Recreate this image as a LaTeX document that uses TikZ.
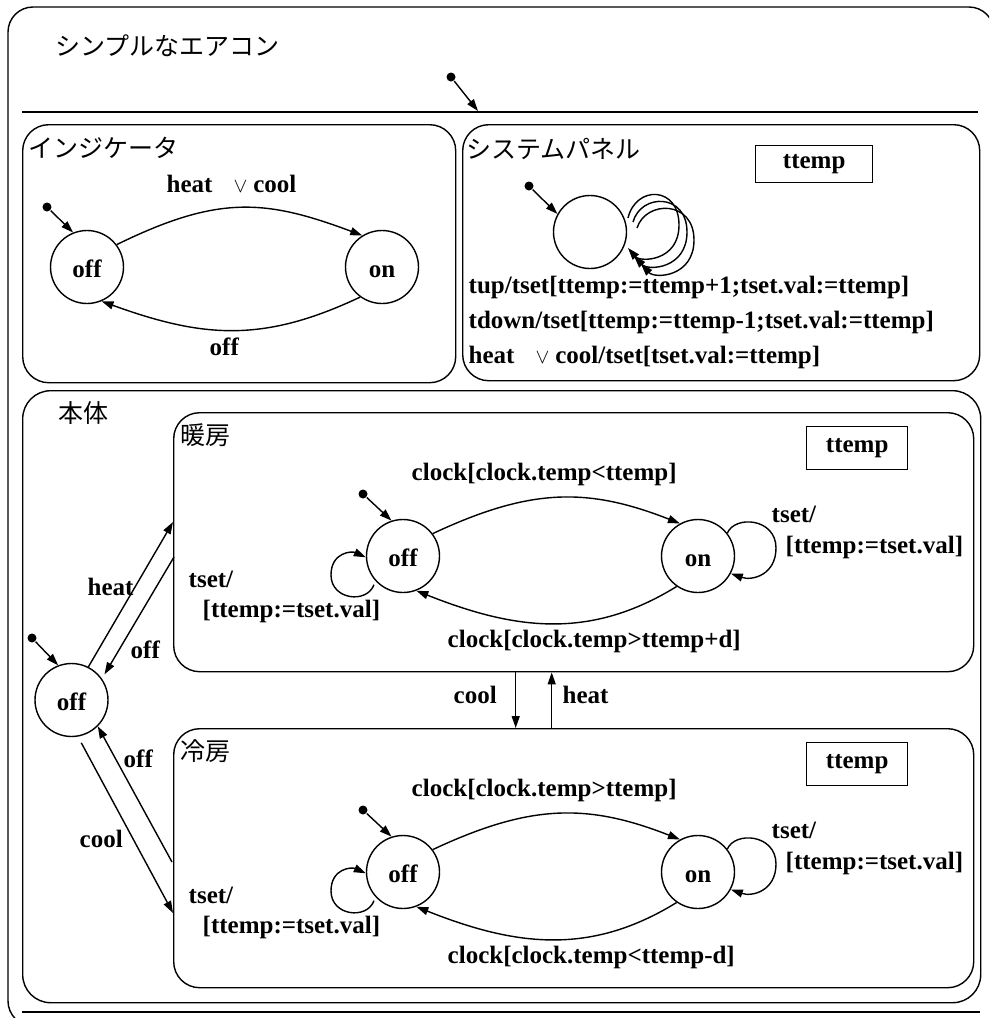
\documentclass[tikz,border=0pt]{standalone}
\usepackage{fontspec}
\setmainfont{Liberation Serif}
\newfontfamily\jpfont{Noto Sans CJK JP}
\usetikzlibrary{arrows.meta,calc}
\newcommand\orvee{{\fontsize{21}{21}\selectfont$\vee$}}
\newcommand\modeblock[5]{%
\begin{scope}[shift={(0,#5)}]
 \node[region, minimum width=800pt, minimum height=259pt] (#1box) at (173,412) {};
 \node[jp] (#1title) at (180,435) {#2};
 \node[varbox, minimum width=101pt, minimum height=43pt] (#1var) at (806,426) {ttemp};
 \node[state] (#1off) at (403,556) {off};
 \node[state] (#1on) at (698,556) {on};
 \node[initdot] (#1dot) at (363,494) {};
 \draw[arr] (#1dot) -- (#1off.108);
 \draw[arr] (#1off.37) .. controls (530,488) and (587,487) .. (#1on.119);
 \draw[arr] (#1on.235) .. controls (590,640) and (515,630) .. (#1off.291);
 \node[lbl] (#1toplbl) at (411,480) {#3};
 \node[lbl] (#1botlbl) at (447,647) {#4};
 \draw[arr, shorten <=4pt] (#1off.222) .. controls (367,604) and (331,600) .. (331,575) .. controls (331,552) and (352,551) .. (#1off.182);
 \draw[arr] (#1on.38) .. controls (735,515) and (776,518) .. (776,548) .. controls (776,575) and (752,581) .. (#1on.-28);
 \node[lbl] (#1lta) at (188,587) {tset/};
 \node[lbl] (#1ltb) at (202,617) {[ttemp:=tset.val]};
 \node[lbl] (#1rta) at (771,522) {tset/};
 \node[lbl] (#1rtb) at (785,553) {[ttemp:=tset.val]};
\end{scope}}
\begin{document}
\begin{tikzpicture}[x=1pt,y=-1pt,
  line width=1.4pt,
  lbl/.style={font=\fontsize{25}{30}\selectfont\bfseries, inner sep=0pt, anchor=base west},
  jp/.style={font=\fontsize{25}{30}\selectfont\jpfont, inner sep=0pt, anchor=west},
  state/.style={draw, circle, minimum size=73pt, inner sep=0pt, text height=21pt, text depth=0pt, font=\fontsize{25}{30}\selectfont\bfseries},
  region/.style={draw, rectangle, rounded corners=26pt, inner sep=0pt, anchor=north west},
  varbox/.style={draw, rectangle, inner sep=0pt, anchor=north west, font=\fontsize{25}{30}\selectfont\bfseries},
  arr/.style={-{Triangle[length=12pt,width=8pt]}},
  initdot/.style={fill, circle, minimum size=9pt, inner sep=0pt},
]
\useasboundingbox (0,0) rectangle (989,1018);
\clip (0,0) rectangle (989,1018);
\fill[white] (0,0) rectangle (989,1018);
% outer frame (its right and bottom sides lie outside the picture)
\coordinate (fbb) at (80,1026);
\coordinate (fbl) at (8,1026);
\coordinate (ftl) at (8,7);
\coordinate (ftr) at (994,7);
\coordinate (fbr) at (994,60);
\draw[rounded corners=25pt] (fbb) -- (fbl) -- (ftl) -- (ftr) -- (fbr);
\node[jp] (maintitle) at (55,46) {シンプルなエアコン};
\node[initdot] (topdot) at (451,77) {};
\coordinate (toptip) at (478,111);
\draw[arr] (topdot) -- (toptip);
\coordinate (sepl) at (22,112);
\coordinate (sepr) at (978,112);
\draw (sepl) -- (sepr);
\coordinate (botl) at (22,1012);
\coordinate (botr) at (980,1012);
\draw (botl) -- (botr);

% indicator
\node[region, minimum width=433pt, minimum height=258pt] (ind) at (22,124) {};
\node[jp] (indtitle) at (28,148) {インジケータ};
\node[lbl] (indtop) at (166,192) {heat\kern21pt\orvee\kern6pt cool};
\node[state] (ioff) at (87,267) {off};
\node[state] (ion) at (382,267) {on};
\node[initdot] (idot) at (47,207) {};
\draw[arr] (idot) -- (ioff.112);
\draw[arr] (ioff.37) .. controls (218,195) and (265,199) .. (ion.122);
\draw[arr] (ion.234) .. controls (263,343) and (203,338) .. (ioff.293);
\node[lbl] (indbot) at (209,355) {off};

% system panel
\node[region, minimum width=517pt, minimum height=256pt] (pan) at (462,124) {};
\node[jp] (pantitle) at (466,149) {システムパネル};
\node[varbox, minimum width=117pt, minimum height=37pt] (pvar) at (755,145) {ttemp};
\node[state] (pst) at (590,232) {};
\node[initdot] (pdot) at (529,186) {};
\draw[arr] (pdot) -- (pst.151);
\draw[arr] ($(pst)+(38,-14)$) .. controls (636,185) and (679,186) .. (679,225) .. controls (679,262) and (640,262) .. ($(pst)+(38,16)$);
\draw[arr] ($(pst)+(43,-10)$) .. controls (641,193) and (687,193) .. (687,232) .. controls (687,269) and (648,271) .. ($(pst)+(44,24)$);
\draw[arr] ($(pst)+(47,-4)$) .. controls (646,200) and (694,200) .. (694,240) .. controls (694,277) and (655,279) .. ($(pst)+(51,32)$);
\node[lbl] (pl1) at (468,293) {tup/tset[ttemp:=ttemp+1;tset.val:=ttemp]};
\node[lbl] (pl2) at (468,328) {tdown/tset[ttemp:=ttemp-1;tset.val:=ttemp]};
\node[lbl] (pl3) at (468,363) {heat\kern21pt\orvee\kern6pt cool/tset[tset.val:=ttemp]};

% body
\node[region, rounded corners=28pt, minimum width=958pt, minimum height=612pt] (body) at (22,390) {};
\node[jp] (bodytitle) at (58,413) {本体};
\modeblock{h}{暖房}{clock[clock.temp<ttemp]}{clock[clock.temp>ttemp+d]}{0}
\modeblock{c}{冷房}{clock[clock.temp>ttemp]}{clock[clock.temp<ttemp-d]}{316}

\node[state] (moff) at (71.5,700) {off};
\node[initdot] (mdot) at (32,638) {};
\draw[arr] (mdot) -- (moff.111);
\coordinate (hin) at (173,522);
\coordinate (hout) at (174,557);
\coordinate (cout) at (172,862);
\coordinate (cin) at (173,913);
\draw[arr] (moff.63) -- (hin);
\draw[arr, shorten >=5pt] (hout) -- (moff.35);
\draw[arr] (cout) -- (moff.-45);
\draw[arr, shorten <=7pt] (moff.-80) -- (cin);
\draw[arr] ([xshift=-58pt]hbox.south) -- ([xshift=-58pt]cbox.north);
\draw[arr] ([xshift=-22pt]cbox.north) -- ([xshift=-22pt]hbox.south);
\node[lbl] (lheat) at (87,595) {heat};
\node[lbl] (loff) at (130,658) {off};
\node[lbl] (loff2) at (123,767) {off};
\node[lbl] (lcool) at (79,847) {cool};
\node[lbl] (mcool) at (453,703) {cool};
\node[lbl] (mheat) at (562,703) {heat};
\end{tikzpicture}
\end{document}
